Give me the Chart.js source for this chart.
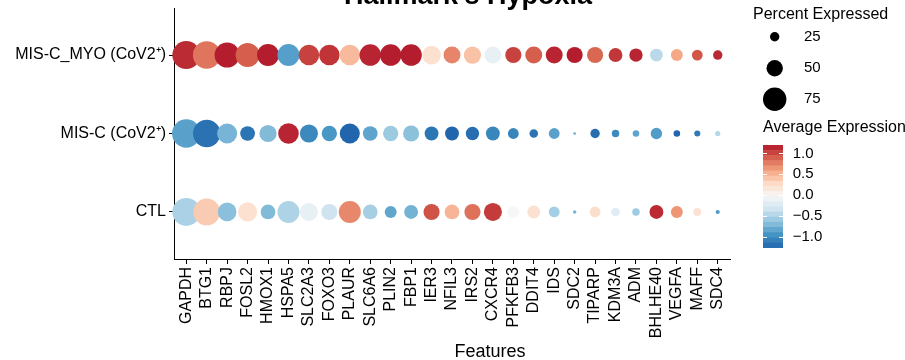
<!DOCTYPE html>
<html lang="en">
<head>
    <meta charset="UTF-8">
    <title>Hallmark's Hypoxia</title>
    <script src="https://cdn.jsdelivr.net/npm/chart.js"></script>
    <style>
        body { margin: 0; padding: 0; background: white; }
        #chart { display: block; }
    </style>
</head>
<body>
    <canvas id="chart" width="905" height="360"></canvas>
    <script>
        // genes along the x axis
        const genes = ["GAPDH","BTG1","RBPJ","FOSL2","HMOX1","HSPA5","SLC2A3","FOXO3","PLAUR","SLC6A6","PLIN2","FBP1","IER3","NFIL3","IRS2","CXCR4","PFKFB3","DDIT4","IDS","SDC2","TIPARP","KDM3A","ADM","BHLHE40","VEGFA","MAFF","SDC4"];
        // groups, bottom to top
        const groups = ["CTL", "MIS-C (CoV2\u207A)", "MIS-C_MYO (CoV2\u207A)"];

        // percent expressed per group
        const pctCTL  = [91,87,58,60,44,70,56,49,70,44,34,41,49,44,49,56,34,37,30,4,30,22,18,41,34,20,6];
        const pctMISC = [93,89,63,44,53,65,56,46,63,44,46,49,41,41,39,41,30,22,30,1,25,18,15,32,15,13,10];
        const pctMYO  = [91,90,81,77,70,70,65,65,65,68,68,68,58,52,53,52,49,52,52,49,49,41,39,37,34,30,25];

        // average expression per group
        const avgCTL  = [-0.52,0.37,-0.67,0.22,-0.70,-0.50,-0.15,-0.34,0.72,-0.54,-0.83,-0.75,0.95,0.50,0.82,1.05,-0.03,0.22,-0.55,-0.73,0.25,-0.22,-0.58,1.12,0.66,0.20,-0.90];
        const avgMISC = [-0.86,-1.17,-0.74,-1.15,-0.70,1.15,-1.01,-0.92,-1.25,-0.84,-0.59,-0.66,-1.14,-1.25,-1.20,-1.03,-1.04,-1.16,-0.86,-0.80,-1.20,-1.00,-0.84,-0.89,-1.25,-1.12,-0.47];
        const avgMYO  = [1.12,0.80,1.18,0.90,1.18,-0.87,1.02,1.08,0.47,1.15,1.18,1.18,0.22,0.73,0.43,-0.15,1.02,0.90,1.15,1.18,0.86,1.07,1.15,-0.45,0.57,0.93,1.13];

        // legend breaks
        const sizeBreaks = [25, 50, 75];
        const colorTicks = [1.0, 0.5, 0.0, -0.5, -1.0];
        const colorLimits = [-1.25, 1.2];

        const FONT = "'Liberation Sans', Arial, sans-serif";
        const rdbu = ['#2166AC','#4393C3','#92C5DE','#D1E5F0','#F7F7F7','#FDDBC7','#F4A582','#D6604D','#B2182B'];

        function hexToRgb(h) {
            return [parseInt(h.slice(1,3),16), parseInt(h.slice(3,5),16), parseInt(h.slice(5,7),16)];
        }
        function colorFor(v) {
            let t = (v - colorLimits[0]) / (colorLimits[1] - colorLimits[0]);
            t = Math.max(0, Math.min(1, t));
            const pos = t * (rdbu.length - 1);
            const i = Math.min(Math.floor(pos), rdbu.length - 2);
            const f = pos - i;
            const a = hexToRgb(rdbu[i]), b = hexToRgb(rdbu[i + 1]);
            const c = a.map((x, k) => Math.round(x + (b[k] - x) * f));
            return 'rgb(' + c.join(',') + ')';
        }
        function radiusFor(pct) {
            return 1.2 + 0.14 * pct;
        }

        function rowData(pcts, avgs, row) {
            return genes.map((g, i) => ({ x: i + 1, y: row, r: radiusFor(pcts[i]), v: avgs[i] }));
        }

        const datasets = [
            { label: groups[0], data: rowData(pctCTL, avgCTL, 1) },
            { label: groups[1], data: rowData(pctMISC, avgMISC, 2) },
            { label: groups[2], data: rowData(pctMYO, avgMYO, 3) }
        ].map(d => Object.assign(d, {
            backgroundColor: ctx => colorFor(ctx.raw.v),
            borderWidth: 0,
            hoverRadius: 0,
            clip: false
        }));

        // title, size legend, colour bar and x title
        const extras = {
            id: 'extras',
            afterDraw(chart) {
                const ctx = chart.ctx;
                ctx.save();
                ctx.fillStyle = '#000';
                ctx.textAlign = 'center';
                ctx.textBaseline = 'alphabetic';
                ctx.font = 'bold 27px ' + FONT;
                ctx.fillText("Hallmark's Hypoxia", 468, 4);

                ctx.font = '18px ' + FONT;
                ctx.textBaseline = 'middle';
                ctx.fillText('Features', 490, 352);

                ctx.textAlign = 'left';
                ctx.font = '16px ' + FONT;
                ctx.fillText('Percent Expressed', 753, 15);
                const dotY = [36.7, 68.3, 99.3];
                ctx.font = '15px ' + FONT;
                sizeBreaks.forEach((s, i) => {
                    ctx.beginPath();
                    ctx.arc(774.7, dotY[i], radiusFor(s), 0, Math.PI * 2);
                    ctx.fill();
                    ctx.fillText(String(s), 804, dotY[i]);
                });

                ctx.font = '16px ' + FONT;
                ctx.fillText('Average Expression', 763, 128);

                const barTop = 145, barBot = 247.5, barL = 763, barW = 20, nbin = 20;
                const h = (barBot - barTop) / nbin;
                for (let i = 0; i < nbin; i++) {
                    const v = colorLimits[1] - (i + 0.5) / nbin * (colorLimits[1] - colorLimits[0]);
                    ctx.fillStyle = colorFor(v);
                    ctx.fillRect(barL, barTop + i * h, barW, h + 0.5);
                }
                const yOf = v => barTop + (colorLimits[1] - v) / (colorLimits[1] - colorLimits[0]) * (barBot - barTop);
                ctx.font = '15px ' + FONT;
                colorTicks.forEach(t => {
                    const y = Math.round(yOf(t)) + 0.5;
                    ctx.strokeStyle = '#fff';
                    ctx.lineWidth = 1;
                    ctx.beginPath();
                    ctx.moveTo(barL, y); ctx.lineTo(barL + 4, y);
                    ctx.moveTo(barL + barW - 4, y); ctx.lineTo(barL + barW, y);
                    ctx.stroke();
                    ctx.fillStyle = '#000';
                    const txt = (t < 0 ? '\u2212' : '') + Math.abs(t).toFixed(1);
                    ctx.fillText(txt, 792.7, yOf(t));
                });
                ctx.restore();
            }
        };

        new Chart(document.getElementById('chart'), {
            type: 'bubble',
            data: { datasets: datasets },
            plugins: [extras],
            options: {
                responsive: false,
                animation: false,
                devicePixelRatio: 1,
                // big dots must not push the plot area inwards
                layout: { autoPadding: false, padding: { left: 0, right: 175, top: 8, bottom: 0 } },
                plugins: { legend: { display: false }, tooltip: { enabled: false }, title: { display: false } },
                scales: {
                    x: {
                        type: 'linear',
                        min: 0.4,
                        max: genes.length + 0.6,
                        afterBuildTicks: s => { s.ticks = genes.map((g, i) => ({ value: i + 1 })); },
                        afterFit: s => { s.height = 101; s.paddingLeft = 0; s.paddingRight = 0; },
                        grid: { drawOnChartArea: false, tickLength: 5, tickColor: '#000', tickWidth: 1 },
                        border: { color: '#000', width: 1 },
                        ticks: {
                            autoSkip: false,
                            minRotation: 90,
                            maxRotation: 90,
                            padding: 3,
                            color: '#000',
                            font: { family: FONT, size: 16 },
                            callback: v => genes[v - 1]
                        }
                    },
                    y: {
                        type: 'linear',
                        min: 0.4,
                        max: 3.6,
                        afterBuildTicks: s => { s.ticks = groups.map((g, i) => ({ value: i + 1 })); },
                        afterFit: s => { s.width = 174; s.paddingTop = 0; s.paddingBottom = 0; },
                        grid: { drawOnChartArea: false, tickLength: 5, tickColor: '#000', tickWidth: 1 },
                        border: { color: '#000', width: 1 },
                        ticks: {
                            autoSkip: false,
                            padding: 3,
                            color: '#000',
                            font: { family: FONT, size: 16 },
                            callback: v => groups[v - 1]
                        }
                    }
                }
            }
        });
    </script>
</body>
</html>
